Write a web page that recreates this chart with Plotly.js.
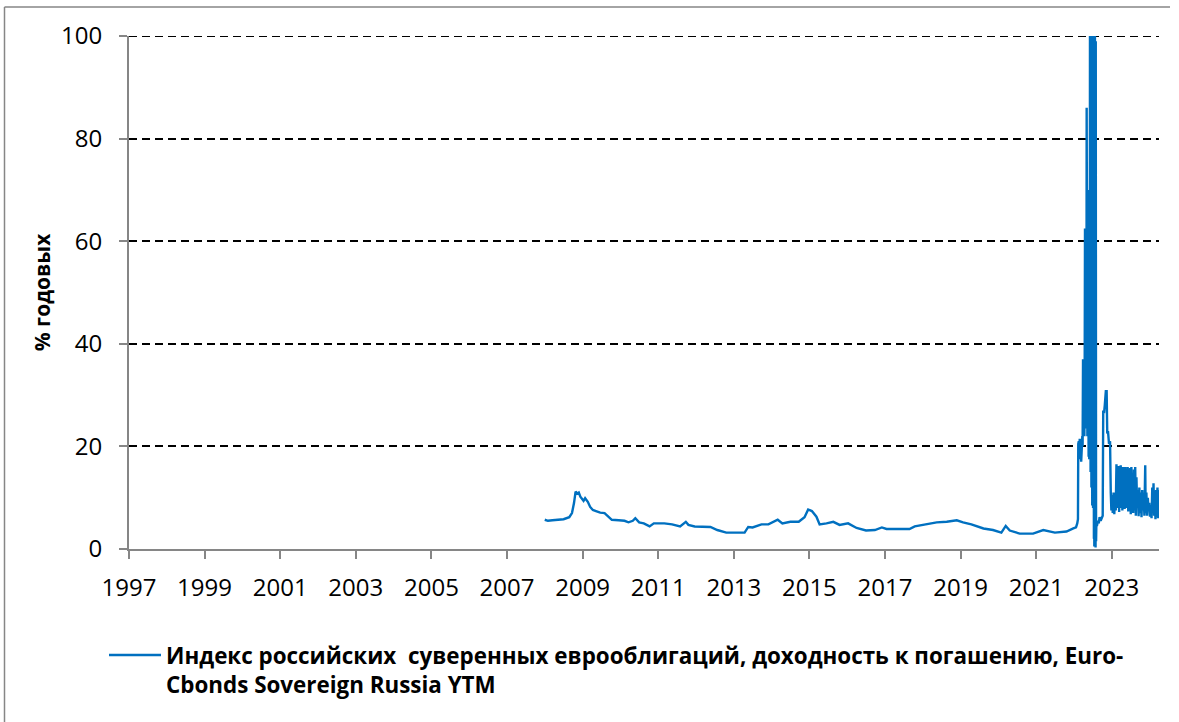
<!DOCTYPE html>
<html>
<head>
<meta charset="utf-8">
<script src="https://cdn.plot.ly/plotly-3.0.1.min.js"></script>
<style>html,body{margin:0;padding:0;background:#fff;}#chart{width:1179px;height:722px;}</style>
</head>
<body>
<div id="chart"></div>
<script>
const dates = [
"2008-01-01","2008-02-01","2008-03-15","2008-05-01","2008-07-01","2008-08-25","2008-09-20","2008-10-10","2008-10-25","2008-11-10",
"2008-11-25","2008-12-10","2009-01-10","2009-01-25","2009-02-20","2009-03-15","2009-04-10","2009-05-10","2009-06-20","2009-08-01",
"2009-09-15","2009-10-10","2009-12-15","2010-02-10","2010-03-20","2010-05-01","2010-05-25","2010-07-01","2010-08-15","2010-10-10",
"2010-11-20","2011-03-01","2011-05-15","2011-08-01","2011-09-25","2011-10-20","2011-12-20","2012-05-20","2012-07-25","2012-10-20",
"2013-04-15","2013-05-20","2013-07-01","2013-09-25","2013-12-01","2014-03-01","2014-04-15","2014-07-01","2014-09-20","2014-11-15",
"2014-12-20","2015-01-25","2015-03-10","2015-04-10","2015-06-15","2015-08-20","2015-10-20","2016-01-10","2016-04-01","2016-07-01",
"2016-09-25","2016-12-01","2017-01-15","2017-08-25","2017-10-15","2018-02-05","2018-05-15","2018-08-20","2018-11-25","2019-01-25",
"2019-04-15","2019-08-10","2019-11-10","2020-01-30","2020-03-12","2020-04-20","2020-07-25","2020-12-01","2021-03-10","2021-06-30",
"2021-10-20","2021-12-25","2022-01-20","2022-02-01","2022-02-08","2022-02-11","2022-02-16","2022-02-21","2022-02-25","2022-03-02",
"2022-03-07","2022-03-11","2022-03-15","2022-03-18","2022-03-22","2022-03-25","2022-03-29","2022-03-31","2022-04-02","2022-04-05",
"2022-04-08","2022-04-11","2022-04-14","2022-04-17","2022-04-19","2022-04-21","2022-04-23","2022-04-25","2022-04-27","2022-04-29",
"2022-05-01","2022-05-03","2022-05-05","2022-05-08","2022-05-10","2022-05-13","2022-05-16","2022-05-19","2022-05-22","2022-05-25",
"2022-05-28","2022-05-31","2022-06-02","2022-06-04","2022-06-06","2022-06-08","2022-06-10","2022-06-12","2022-06-14","2022-06-16",
"2022-06-18","2022-06-20","2022-06-22","2022-06-24","2022-06-26","2022-06-28","2022-06-30","2022-07-02","2022-07-04","2022-07-06",
"2022-07-08","2022-07-10","2022-07-12","2022-07-14","2022-07-16","2022-07-18","2022-07-20","2022-07-22","2022-07-24","2022-07-26",
"2022-07-28","2022-07-30","2022-08-02","2022-08-05","2022-08-10","2022-08-20","2022-08-28","2022-09-05","2022-09-15","2022-09-25",
"2022-10-05","2022-10-10","2022-10-18","2022-10-25","2022-11-01","2022-11-05","2022-11-08","2022-11-12","2022-11-18","2022-11-25",
"2022-12-05","2022-12-15","2022-12-22","2022-12-28","2023-01-05","2023-01-10","2023-01-18","2023-01-25","2023-02-01","2023-02-08",
"2023-02-15","2023-02-20","2023-02-26","2023-03-03","2023-03-08","2023-03-13","2023-03-18","2023-03-23","2023-03-28","2023-04-03",
"2023-04-08","2023-04-13","2023-04-18","2023-04-24","2023-04-30","2023-05-05","2023-05-10","2023-05-16","2023-05-22","2023-05-28",
"2023-06-03","2023-06-09","2023-06-15","2023-06-21","2023-06-27","2023-07-03","2023-07-09","2023-07-15","2023-07-21","2023-07-27",
"2023-08-03","2023-08-09","2023-08-15","2023-08-21","2023-08-27","2023-09-03","2023-09-10","2023-09-17","2023-09-24","2023-10-01",
"2023-10-08","2023-10-15","2023-10-22","2023-10-29","2023-11-05","2023-11-12","2023-11-20","2023-11-24","2023-12-01","2023-12-08",
"2023-12-15","2023-12-22","2023-12-29","2024-01-05","2024-01-12","2024-01-20","2024-01-27","2024-02-03","2024-02-08","2024-02-14",
"2024-02-20","2024-02-27","2024-03-04","2024-03-10","2024-03-17","2024-03-23","2024-03-28"
];
const ytm = [
5.7,5.5,5.6,5.7,5.8,6.2,7.0,9.0,11.2,10.8,
11.0,10.2,9.4,9.9,9.2,8.2,7.6,7.4,7.1,7.0,
6.2,5.7,5.6,5.5,5.2,5.5,6.0,5.2,5.0,4.4,
5.0,5.0,4.8,4.4,5.3,4.7,4.4,4.3,3.7,3.2,
3.2,4.3,4.2,4.8,4.8,5.7,5.0,5.3,5.3,6.2,
7.7,7.4,6.3,4.8,5.0,5.3,4.7,5.0,4.1,3.6,
3.7,4.2,3.9,3.9,4.4,4.9,5.2,5.3,5.6,5.2,
4.8,4.0,3.7,3.2,4.5,3.6,3.0,3.0,3.7,3.2,
3.4,4.0,4.2,5.0,5.8,20.5,21.0,17.5,21.5,18.0,
20.0,17.0,21.0,19.0,22.0,20.0,37.0,24.0,36.0,23.0,
30.0,22.0,35.0,62.5,24.0,62.0,25.0,60.0,23.5,62.0,
24.0,86.0,23.0,70.0,22.0,70.0,20.0,68.0,18.0,70.0,
17.5,69.0,18.0,100.0,17.0,100.0,15.0,100.0,17.0,100.0,
12.0,100.0,10.0,100.0,8.5,100.0,9.0,100.0,8.0,100.0,
4.0,100.0,2.0,100.0,0.5,100.0,3.0,100.0,1.0,100.0,
0.3,99.0,1.5,5.0,4.5,5.5,5.0,6.2,5.5,6.0,
6.5,27.0,26.5,28.0,30.5,31.0,29.0,31.0,22.5,23.0,
20.5,21.0,11.0,7.5,10.5,7.0,11.0,6.8,10.0,7.5,
16.5,8.0,16.0,8.0,16.2,7.2,16.0,9.0,16.3,8.0,
15.8,7.5,16.0,8.5,15.5,7.8,16.0,9.0,15.6,8.0,
16.0,7.3,15.0,8.2,15.8,6.8,16.0,8.5,12.0,7.0,
15.5,7.5,16.0,6.5,14.0,8.0,11.5,6.4,12.0,7.0,
11.0,6.2,11.5,7.5,10.0,6.5,16.3,7.0,11.0,6.5,
10.0,7.5,9.0,6.3,8.5,6.0,12.0,7.0,12.8,6.5,
10.0,5.8,11.5,6.2,12.0,6.0,11.5
];
const seriesName = "Индекс российских  суверенных еврооблигаций, доходность к погашению, Euro-<br>Cbonds Sovereign Russia YTM";
const yTitle = "% годовых";
const yTicks = [0, 20, 40, 60, 80, 100];

const font = "Open Sans, Liberation Sans, sans-serif";
const trace = {
  x: dates, y: ytm, type: "scatter", mode: "lines", name: seriesName,
  line: {color: "#0070C0", width: 2.4}, showlegend: true
};
const W = 1030, H = 513;
function px(p){ return (p - 129) / W; }
function py(p){ return (549 - p) / H; }
const layout = {
  width: 1179, height: 722,
  margin: {l: 129, r: 20, t: 36, b: 173, pad: 0},
  paper_bgcolor: "#fff", plot_bgcolor: "#fff",
  font: {family: font, size: 24, color: "#000"},
  xaxis: {
    type: "date", range: ["1997-01-01", "2024-04-01"],
    tick0: "1997-01-01", dtick: "M24", tickformat: "%Y",
    showgrid: false, zeroline: false,
    showline: true, linecolor: "#868686", linewidth: 2,
    ticks: "outside", ticklen: 8, tickwidth: 2, tickcolor: "#868686",
    ticklabelstandoff: 8,
    tickfont: {family: font, size: 24, color: "#000"}
  },
  yaxis: {
    range: [0, 100], tickvals: yTicks,
    showgrid: true, gridcolor: "#000", gridwidth: 2, griddash: "8px,5px",
    zeroline: false,
    showline: true, linecolor: "#868686", linewidth: 2,
    ticks: "outside", ticklen: 8, tickwidth: 2, tickcolor: "#868686",
    ticklabelstandoff: 12,
    tickfont: {family: font, size: 24, color: "#000"},
    title: {text: yTitle, standoff: 5, font: {family: font, size: 21, weight: "bold", color: "#000"}}
  },
  showlegend: true,
  legend: {
    x: px(104), y: py(634), xanchor: "left", yanchor: "top",
    orientation: "v", itemwidth: 52, valign: "top",
    bgcolor: "rgba(0,0,0,0)",
    font: {family: font, size: 22.4, weight: "bold", color: "#000"}
  },
  shapes: [
    {type: "line", xref: "paper", yref: "y", x0: 0, x1: 1, y0: 100, y1: 100, layer: "below", line: {color: "#000", width: 2, dash: "8px,5px"}},
    {type: "line", xref: "paper", yref: "paper", x0: px(4.5), x1: px(4.5), y0: py(7), y1: py(722), line: {color: "#868686", width: 1.5}},
    {type: "line", xref: "paper", yref: "paper", x0: px(4.5), x1: px(1170), y0: py(7), y1: py(7), line: {color: "#868686", width: 1.5}}
  ]
};
Plotly.newPlot("chart", [trace], layout, {staticPlot: true, displayModeBar: false});
</script>
</body>
</html>
